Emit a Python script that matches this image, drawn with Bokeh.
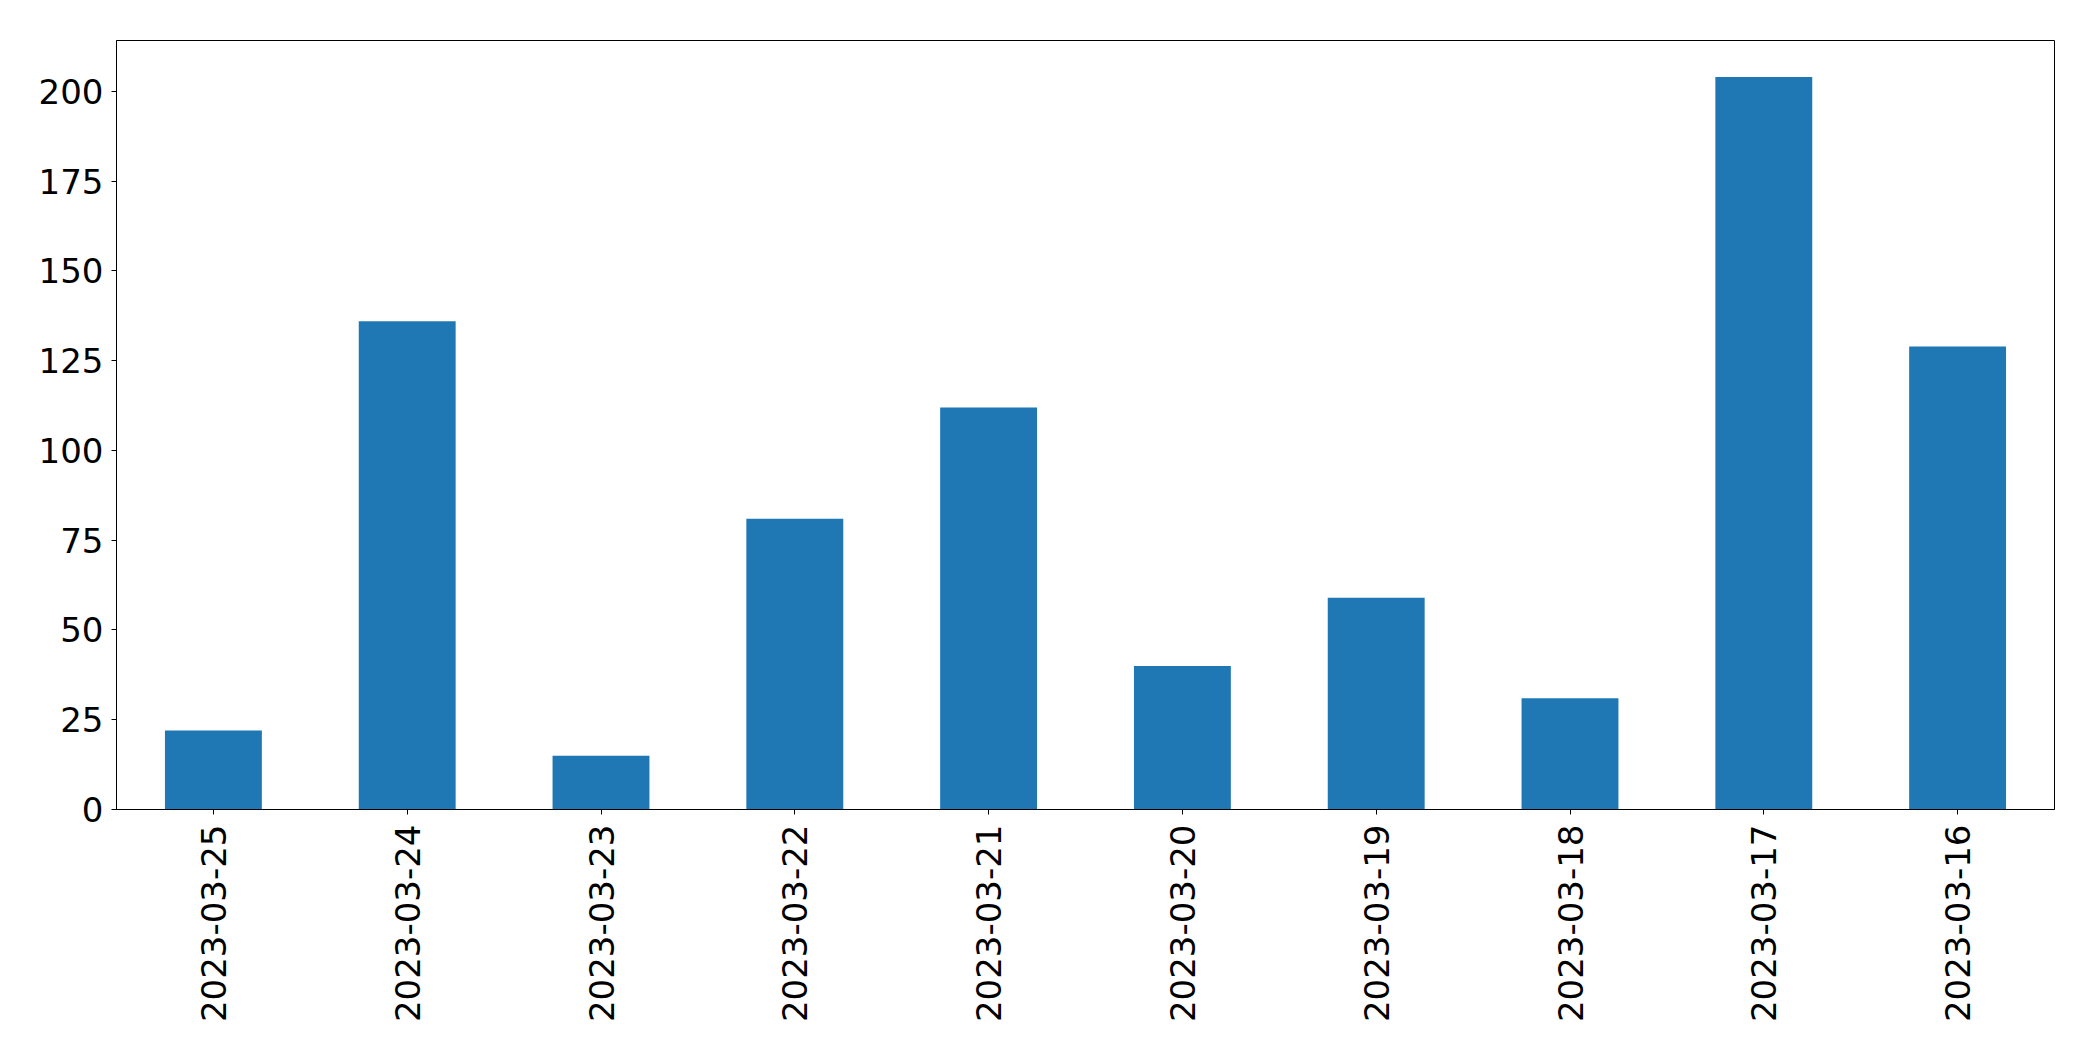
from bokeh.plotting import figure
from bokeh.models import Range1d, FactorRange, SingleIntervalTicker
from bokeh.embed import file_html
from bokeh.resources import INLINE
from bokeh.models import ColumnDataSource

dates = ["2023-03-25", "2023-03-24", "2023-03-23", "2023-03-22", "2023-03-21",
         "2023-03-20", "2023-03-19", "2023-03-18", "2023-03-17", "2023-03-16"]
counts = [22, 136, 15, 81, 112, 40, 59, 31, 204, 129]

src = ColumnDataSource(dict(x=dates, top=counts))

p = figure(width=2077, height=1045, output_backend="svg", toolbar_location=None,
           x_range=FactorRange(*dates, range_padding=0),
           y_range=Range1d(0, max(counts) * 1.05))
p.min_border_left = 116
p.min_border_right = 23
p.min_border_top = 40
p.min_border_bottom = 236

p.vbar(x="x", top="top", width=0.5, source=src, color="#1f77b4", line_color=None)

p.xgrid.visible = False
p.ygrid.visible = False
p.outline_line_color = "black"
p.outline_line_width = 1
p.background_fill_color = "white"
p.border_fill_color = "white"

p.yaxis.ticker = SingleIntervalTicker(interval=25)
p.yaxis.minor_tick_line_color = None
for ax in (p.xaxis, p.yaxis):
    ax.major_label_text_font = "DejaVu Sans"
    ax.major_label_text_font_size = "34px"
    ax.major_label_text_color = "black"
    ax.major_tick_out = 5
    ax.major_tick_in = 0
    ax.major_tick_line_color = "black"
    ax.axis_line_color = "black"
    ax.axis_line_width = 1
p.yaxis.major_label_standoff = 8
p.xaxis.major_label_standoff = 10
p.xaxis.major_label_orientation = 1.5707963267948966

open("out.html", "w").write(file_html(p, INLINE))
